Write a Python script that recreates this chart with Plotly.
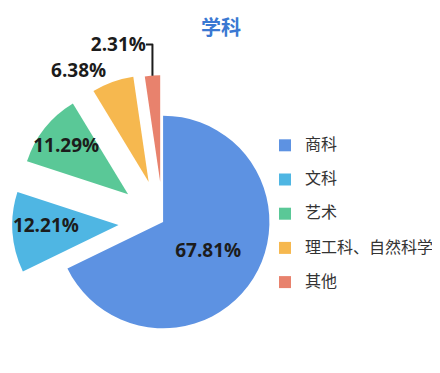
import plotly.graph_objects as go

labels = ["商科", "文科", "艺术", "理工科、自然科学", "其他"]
values = [67.81, 12.21, 11.29, 6.38, 2.31]
colors = ["#5D92E2", "#4FB6E3", "#5AC897", "#F6B84F", "#E8826D"]
pulls = [0, 0.42, 0.42, 0.40, 0.38]
text_positions = ["inside", "inside", "inside", "outside", "outside"]

legend_labels = [f"<span style='font-size:16px'>{l}</span><br> " for l in labels]

font_family = "Open Sans, Noto Sans CJK SC, sans-serif"

W, H = 432, 365

fig = go.Figure(
    go.Pie(
        labels=legend_labels,
        values=values,
        sort=False,
        direction="clockwise",
        rotation=0,
        pull=pulls,
        marker=dict(colors=colors, line=dict(color="white", width=0)),
        texttemplate="<b>%{percent:.2%}</b>",
        textposition=text_positions,
        insidetextorientation="horizontal",
        textfont=dict(family=font_family, size=19, color="#1c1c1c"),
        domain=dict(x=[0.004, 0.714], y=[0.0, 302 / H]),
        hoverinfo="skip",
    )
)

fig.update_layout(
    width=W,
    height=H,
    margin=dict(l=0, r=0, t=0, b=0, autoexpand=False),
    paper_bgcolor="white",
    plot_bgcolor="white",
    uniformtext=dict(minsize=19, mode="show"),
    title=dict(
        text="<b>学科</b>",
        x=213 / W,
        xanchor="center",
        y=1 - 20 / H,
        yanchor="middle",
        font=dict(family="Noto Sans CJK SC", size=20, color="#3A78D2"),
    ),
    legend=dict(
        x=257 / W,
        xanchor="left",
        y=1 - 123 / H,
        yanchor="top",
        valign="top",
        font=dict(family="Noto Sans CJK SC", size=12, color="#333333"),
        bgcolor="rgba(0,0,0,0)",
    ),
    showlegend=True,
)

fig.write_html("out.html")
